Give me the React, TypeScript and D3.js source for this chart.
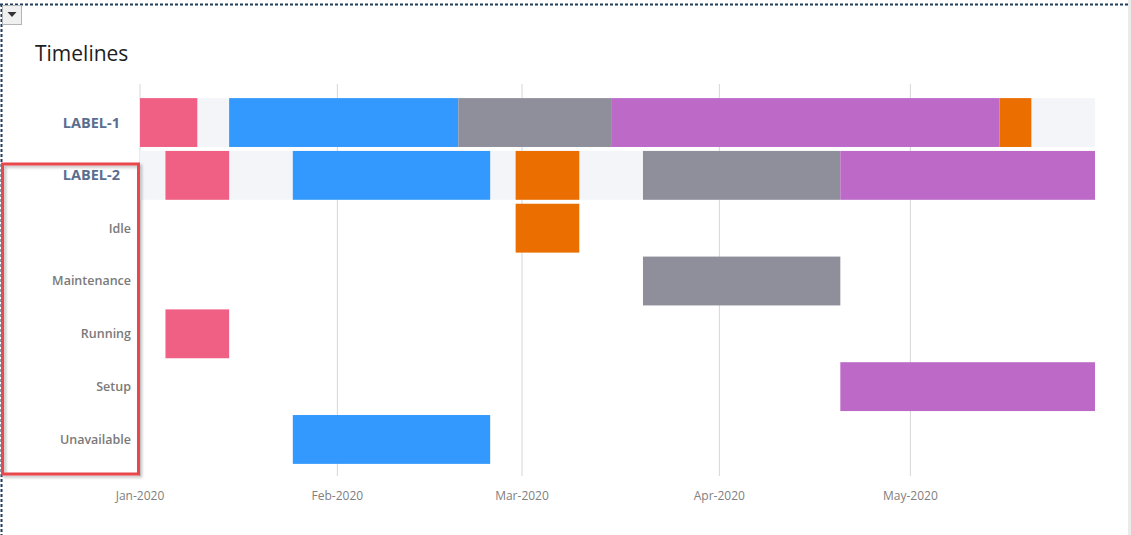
import React from "react";
import * as d3 from "d3";

const W = 1131;
const H = 535;

const rows = ["LABEL-1", "LABEL-2", "Idle", "Maintenance", "Running", "Setup", "Unavailable"];
const groupRows = ["LABEL-1", "LABEL-2"];

const statusNames = ["Running", "Unavailable", "Maintenance", "Setup", "Idle"];
const statusColors = ["#f06084", "#3399ff", "#8e8f9a", "#bc69c8", "#eb6e00"];

// LABEL-1 own segments
const l1Status = ["Running", "Unavailable", "Maintenance", "Setup", "Idle"];
const l1Start = ["2020-01-01", "2020-01-15", "2020-02-20", "2020-03-15", "2020-05-15"];
const l1End = ["2020-01-10", "2020-02-20", "2020-03-15", "2020-05-15", "2020-05-20"];

// LABEL-2 sub-row segments (LABEL-2 row shows all of them)
const l2Status = ["Running", "Unavailable", "Idle", "Maintenance", "Setup"];
const l2Start = ["2020-01-05", "2020-01-25", "2020-02-29", "2020-03-20", "2020-04-20"];
const l2End = ["2020-01-15", "2020-02-25", "2020-03-10", "2020-04-20", "2020-05-30"];

const domainStart = "2020-01-01";
const domainEnd = "2020-05-30";

const parse = d3.utcParse("%Y-%m-%d");

export default function App() {
  const x = d3
    .scaleUtc()
    .domain([parse(domainStart)!, parse(domainEnd)!])
    .range([140, 1095]);
  const y = d3
    .scaleBand<string>()
    .domain(rows)
    .range([96, 466])
    .paddingInner(0.075)
    .paddingOuter(0.04);
  const color = d3.scaleOrdinal<string, string>().domain(statusNames).range(statusColors);
  const ticks = x.ticks(d3.utcMonth.every(1)!);
  const fmt = d3.utcFormat("%b-%Y");

  const segs: { row: string; status: string; s: Date; e: Date }[] = [];
  l1Status.forEach((st, i) =>
    segs.push({ row: "LABEL-1", status: st, s: parse(l1Start[i])!, e: parse(l1End[i])! })
  );
  l2Status.forEach((st, i) => {
    segs.push({ row: "LABEL-2", status: st, s: parse(l2Start[i])!, e: parse(l2End[i])! });
    segs.push({ row: st, status: st, s: parse(l2Start[i])!, e: parse(l2End[i])! });
  });

  const [x0, x1] = x.range();

  return (
    <div style={{ position: "absolute", left: 0, top: 0 }}>
      <svg width={W} height={H} style={{ display: "block", fontFamily: "'Open Sans', sans-serif" }}>
        <defs>
          <filter id="sh" x="-10%" y="-10%" width="130%" height="130%">
            <feDropShadow dx="2" dy="2" stdDeviation="1.5" floodColor="#000" floodOpacity="0.25" />
          </filter>
        </defs>
        <rect x={0} y={0} width={W} height={H} fill="#fff" />
        <rect x={1128} y={0} width={3} height={H} fill="#ebebeb" />
        {/* dotted frame */}
        <line x1={0} x2={1128} y1={4.5} y2={4.5} stroke="#1f3d5c" strokeWidth={2} strokeDasharray="3 2" />
        <line x1={1.5} x2={1.5} y1={4} y2={H} stroke="#1f3d5c" strokeWidth={2} strokeDasharray="3 2" />
        {/* dropdown button */}
        <rect x={2.5} y={5.5} width={19} height={19} fill="#f0f0f0" stroke="#b4b4b4" />
        <path d="M7.5,12 L16.5,12 L12,17 Z" fill="#333" />

        <text x={35} y={61} fontSize={21} fill="#1e1e1e" fontWeight={500}>
          Timelines
        </text>

        {/* grid */}
        {ticks.map((t, i) => (
          <line key={i} x1={x(t)} x2={x(t)} y1={84} y2={476} stroke="#d6d6d6" strokeWidth={1} />
        ))}

        {/* group backgrounds */}
        {groupRows.map((r) => (
          <rect key={r} x={x0} y={y(r)} width={x1 - x0} height={y.bandwidth()} fill="#f4f5f9" />
        ))}

        {/* bars */}
        {segs.map((d, i) => (
          <rect
            key={i}
            x={x(d.s)}
            y={y(d.row)}
            width={x(d.e) - x(d.s)}
            height={y.bandwidth()}
            fill={color(d.status)}
          />
        ))}

        {/* row labels */}
        {rows.map((r) => {
          const isGroup = groupRows.includes(r);
          return (
            <text
              key={r}
              x={isGroup ? 120 : 131}
              y={(y(r) as number) + y.bandwidth() / 2}
              dy="0.35em"
              textAnchor="end"
              fontSize={isGroup ? 14.5 : 12.5}
              fontWeight={isGroup ? 700 : 600}
              fill={isGroup ? "#5a6f8f" : "#7a7a7a"}
            >
              {r}
            </text>
          );
        })}

        {/* x tick labels */}
        {ticks.map((t, i) => (
          <text key={i} x={x(t)} y={500} textAnchor="middle" fontSize={12} fill="#808080">
            {fmt(t)}
          </text>
        ))}

        {/* annotation box */}
        <rect
          x={2.5}
          y={164}
          width={136}
          height={310}
          fill="none"
          stroke="#e8474b"
          strokeWidth={3}
          filter="url(#sh)"
        />
      </svg>
    </div>
  );
}
